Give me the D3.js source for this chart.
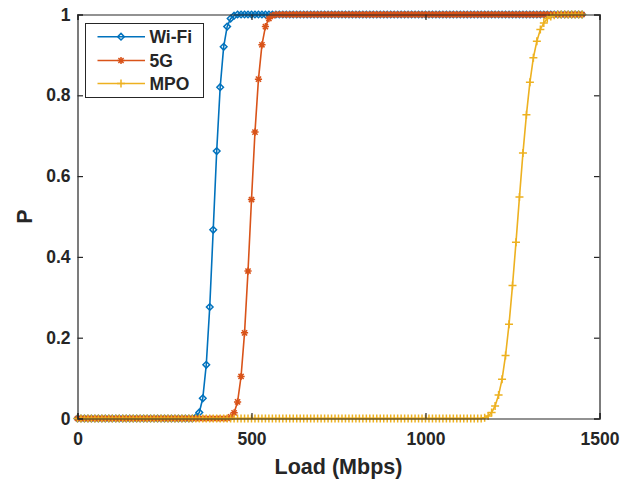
<!DOCTYPE html>
<html>
<head>
<meta charset="utf-8">
<script src="https://cdn.jsdelivr.net/npm/d3@7"></script>
<style>
  body { margin: 0; background: #fff; }
  text { font-family: "Liberation Sans", Arial, sans-serif; font-weight: bold; fill: #262626; }
</style>
</head>
<body>
<script>

// load values (Mbps), one point every 10
var loads = [
  0, 10, 20, 30, 40, 50, 60, 70, 80, 90, 100, 110, 120, 130, 140, 150, 160, 170, 180, 190,
  200, 210, 220, 230, 240, 250, 260, 270, 280, 290, 300, 310, 320, 330, 340, 350, 360, 370, 380, 390,
  400, 410, 420, 430, 440, 450, 460, 470, 480, 490, 500, 510, 520, 530, 540, 550, 560, 570, 580, 590,
  600, 610, 620, 630, 640, 650, 660, 670, 680, 690, 700, 710, 720, 730, 740, 750, 760, 770, 780, 790,
  800, 810, 820, 830, 840, 850, 860, 870, 880, 890, 900, 910, 920, 930, 940, 950, 960, 970, 980, 990,
  1000, 1010, 1020, 1030, 1040, 1050, 1060, 1070, 1080, 1090, 1100, 1110, 1120, 1130, 1140, 1150, 1160, 1170, 1180, 1190,
  1200, 1210, 1220, 1230, 1240, 1250, 1260, 1270, 1280, 1290, 1300, 1310, 1320, 1330, 1340, 1350, 1360, 1370, 1380, 1390,
  1400, 1410, 1420, 1430, 1440, 1450
];

var wifi = [
  0, 0, 0, 0, 0, 0, 0, 0, 0, 0, 0, 0, 0, 0, 0, 0, 0, 0, 0, 0,
  0, 0, 0, 0, 0, 0, 0, 0, 0, 0, 0, 0, 0, 0, 0.003, 0.015, 0.05, 0.133, 0.276, 0.467,
  0.662, 0.82, 0.92, 0.97, 0.99, 0.997, 1, 1, 1, 1, 1, 1, 1, 1, 1, 1, 1, 1, 1, 1,
  1, 1, 1, 1, 1, 1, 1, 1, 1, 1, 1, 1, 1, 1, 1, 1, 1, 1, 1, 1,
  1, 1, 1, 1, 1, 1, 1, 1, 1, 1, 1, 1, 1, 1, 1, 1, 1, 1, 1, 1,
  1, 1, 1, 1, 1, 1, 1, 1, 1, 1, 1, 1, 1, 1, 1, 1, 1, 1, 1, 1,
  1, 1, 1, 1, 1, 1, 1, 1, 1, 1, 1, 1, 1, 1, 1, 1, 1, 1, 1, 1,
  1, 1, 1, 1, 1, 1
];

var fiveG = [
  0, 0, 0, 0, 0, 0, 0, 0, 0, 0, 0, 0, 0, 0, 0, 0, 0, 0, 0, 0,
  0, 0, 0, 0, 0, 0, 0, 0, 0, 0, 0, 0, 0, 0, 0, 0, 0, 0, 0, 0,
  0, 0, 0, 0, 0.004, 0.014, 0.041, 0.104, 0.212, 0.365, 0.542, 0.709, 0.84, 0.925, 0.97, 0.99, 0.997, 1, 1, 1,
  1, 1, 1, 1, 1, 1, 1, 1, 1, 1, 1, 1, 1, 1, 1, 1, 1, 1, 1, 1,
  1, 1, 1, 1, 1, 1, 1, 1, 1, 1, 1, 1, 1, 1, 1, 1, 1, 1, 1, 1,
  1, 1, 1, 1, 1, 1, 1, 1, 1, 1, 1, 1, 1, 1, 1, 1, 1, 1, 1, 1,
  1, 1, 1, 1, 1, 1, 1, 1, 1, 1, 1, 1, 1, 1, 1, 1, 1, 1, 1, 1,
  1, 1, 1, 1, 1, 1
];

var mpo = [
  0, 0, 0, 0, 0, 0, 0, 0, 0, 0, 0, 0, 0, 0, 0, 0, 0, 0, 0, 0,
  0, 0, 0, 0, 0, 0, 0, 0, 0, 0, 0, 0, 0, 0, 0, 0, 0, 0, 0, 0,
  0, 0, 0, 0, 0, 0, 0, 0, 0, 0, 0, 0, 0, 0, 0, 0, 0, 0, 0, 0,
  0, 0, 0, 0, 0, 0, 0, 0, 0, 0, 0, 0, 0, 0, 0, 0, 0, 0, 0, 0,
  0, 0, 0, 0, 0, 0, 0, 0, 0, 0, 0, 0, 0, 0, 0, 0, 0, 0, 0, 0,
  0, 0, 0, 0, 0, 0, 0, 0, 0, 0, 0, 0, 0, 0, 0, 0, 0, 0.002, 0.006, 0.015,
  0.031, 0.058, 0.097, 0.156, 0.233, 0.329, 0.436, 0.548, 0.657, 0.752, 0.832, 0.893, 0.934, 0.963, 0.979, 0.99, 0.995, 0.998, 1, 1,
  1, 1, 1, 1, 1, 1
];

var seriesNames = ["Wi-Fi", "5G", "MPO"];
var xTicks = [0, 500, 1000, 1500];
var yTicks = [0, 0.2, 0.4, 0.6, 0.8, 1];

var chart = {
  w: 634,
  h: 483,
  left: 77.5,
  right: 599.5,
  top: 14.5,
  bottom: 418.5
};

// matlab default colour order
var colours = ["#0072BD", "#D95319", "#EDB120"];
var markers = ["diamond", "asterisk", "plus"];

var svg = d3.select("body")
          .append("svg")
            .attr("width", chart.w)
            .attr("height", chart.h);

var xScale = d3.scaleLinear()
               .domain([0, 1500])
               .range([chart.left, chart.right]);

var yScale = d3.scaleLinear()
               .domain([0, 1])
               .range([chart.bottom, chart.top]);

// marker shapes, r = half size
function markerPath(type, r) {
  if (type == "diamond") {
    return "M0," + (-r) + "L" + r + ",0L0," + r + "L" + (-r) + ",0Z";
  }
  if (type == "plus") {
    return "M" + (-r) + ",0H" + r + "M0," + (-r) + "V" + r;
  }
  var d = r * 0.72;
  return "M" + (-r) + ",0H" + r + "M0," + (-r) + "V" + r +
         "M" + (-d) + "," + (-d) + "L" + d + "," + d +
         "M" + (-d) + "," + d + "L" + d + "," + (-d);
}

var markerSize = [3.3, 3.6, 4];

// draw the curves
var allSeries = [wifi, fiveG, mpo];

var line = d3.line()
             .x(function(d) { return xScale(d[0]); })
             .y(function(d) { return yScale(d[1]); });

allSeries.forEach(function(values, s) {
  var points = loads.map(function(l, i) { return [l, values[i]]; });

  svg.append("path")
     .datum(points)
     .attr("d", line)
     .attr("fill", "none")
     .attr("stroke", colours[s])
     .attr("stroke-width", 1.6);

  svg.append("g")
     .selectAll("path")
     .data(points)
     .enter()
   .append("path")
     .attr("transform", function(d) {
       return "translate(" + xScale(d[0]) + "," + yScale(d[1]) + ")";
     })
     .attr("d", markerPath(markers[s], markerSize[s]))
     .attr("fill", "none")
     .attr("stroke", colours[s])
     .attr("stroke-width", 1.5);
});

// axes, ticks pointing inwards like matlab
var tickLen = 5.5;

var xAxisBottom = d3.axisBottom(xScale).tickValues(xTicks).tickSize(-tickLen).tickPadding(14)
                    .tickFormat(d3.format("d"));
var xAxisTop = d3.axisTop(xScale).tickValues(xTicks).tickSize(-tickLen).tickFormat("");
var yAxisLeft = d3.axisLeft(yScale).tickValues(yTicks).tickSize(-tickLen).tickPadding(7)
                  .tickFormat(function(d) { return String(+d.toFixed(1)); });
var yAxisRight = d3.axisRight(yScale).tickValues(yTicks).tickSize(-tickLen).tickFormat("");

var axes = [
  svg.append("g").attr("transform", "translate(0," + chart.bottom + ")").call(xAxisBottom),
  svg.append("g").attr("transform", "translate(0," + chart.top + ")").call(xAxisTop),
  svg.append("g").attr("transform", "translate(" + chart.left + ",0)").call(yAxisLeft),
  svg.append("g").attr("transform", "translate(" + chart.right + ",0)").call(yAxisRight)
];

axes.forEach(function(a) {
  a.select(".domain").attr("stroke", "#262626").attr("stroke-width", 1.2);
  a.selectAll(".tick line").attr("stroke", "#262626").attr("stroke-width", 1.2);
  a.selectAll(".tick text")
   .attr("fill", "#262626")
   .style("font-size", "17.5px")
   .style("font-family", "'Liberation Sans', Arial, sans-serif")
   .style("font-weight", "bold");
});

// axis labels
svg.append("text")
   .attr("x", (chart.left + chart.right) / 2)
   .attr("y", 474)
   .attr("text-anchor", "middle")
   .style("font-size", "21.5px")
   .text("Load (Mbps)");

svg.append("text")
   .attr("transform", "translate(32," + (chart.top + chart.bottom) / 2 + ") rotate(-90)")
   .attr("text-anchor", "middle")
   .style("font-size", "21.5px")
   .text("P");

// legend
var legend = svg.append("g");

legend.append("rect")
      .attr("x", 85.5)
      .attr("y", 23.5)
      .attr("width", 118)
      .attr("height", 74)
      .attr("fill", "#fff")
      .attr("stroke", "#262626")
      .attr("stroke-width", 1);

var rowY = [36.7, 60.5, 83.5];

seriesNames.forEach(function(name, s) {
  legend.append("line")
        .attr("x1", 97.5)
        .attr("x2", 145)
        .attr("y1", rowY[s])
        .attr("y2", rowY[s])
        .attr("stroke", colours[s])
        .attr("stroke-width", 1.6);

  legend.append("path")
        .attr("transform", "translate(121," + rowY[s] + ")")
        .attr("d", markerPath(markers[s], markerSize[s]))
        .attr("fill", "none")
        .attr("stroke", colours[s])
        .attr("stroke-width", 1.5);

  legend.append("text")
        .attr("x", 149.5)
        .attr("y", rowY[s] + 6.3)
        .style("font-size", "17.5px")
        .text(name);
});

</script>
</body>
</html>
